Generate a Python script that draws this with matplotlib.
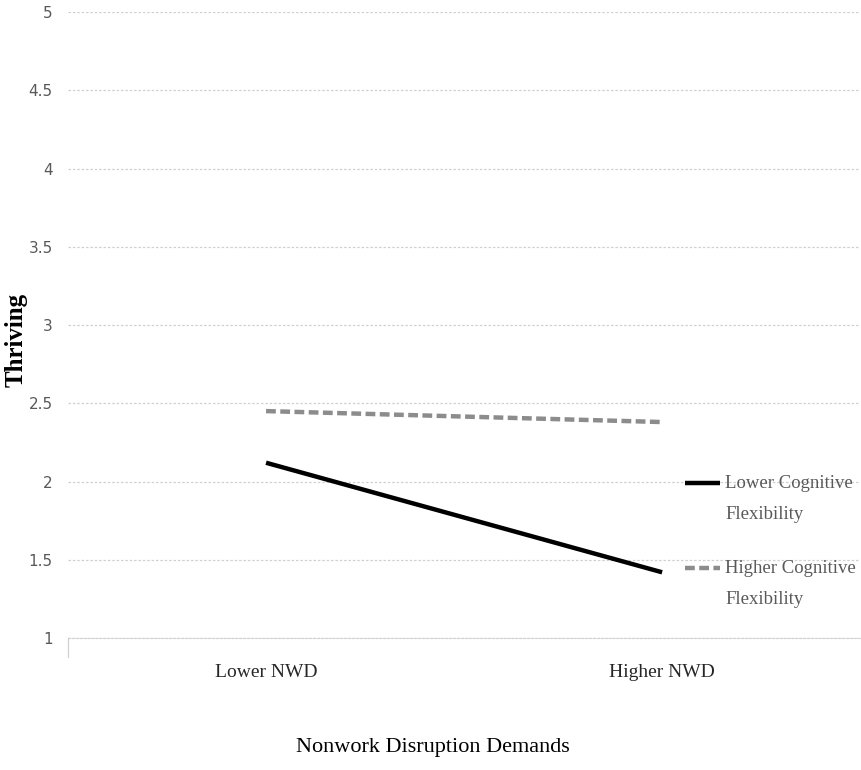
import matplotlib.pyplot as plt
from matplotlib.lines import Line2D
import numpy as np

categories = ["Lower NWD", "Higher NWD"]
lower_cf = [2.12, 1.42]
higher_cf = [2.45, 2.38]
yticks = [1, 1.5, 2, 2.5, 3, 3.5, 4, 4.5, 5]
ytick_labels = ["1", "1.5", "2", "2.5", "3", "3.5", "4", "4.5", "5"]
series_names = [["Lower Cognitive", "Flexibility"], ["Higher Cognitive", "Flexibility"]]

fig = plt.figure(figsize=(8.61, 7.70), dpi=100)
ax = fig.add_axes([0.079, 0.1714, 0.920, 0.8130])

x = np.arange(len(categories))
styles = [dict(color="black", lw=3.2, solid_capstyle="butt"),
          dict(color="#8c8c8c", lw=3.2, dashes=(2.2, 1.0))]
ax.plot(x, lower_cf, **styles[0])
ax.plot(x, higher_cf, **styles[1])

ax.set_xlim(-0.5, 1.5)
ax.set_ylim(1, 5)
ax.set_yticks(yticks)
ax.set_yticklabels(ytick_labels, family=["Liberation Sans Narrow", "DejaVu Sans"],
                   fontsize=11, color="#595959")
ax.set_xticks(x)
ax.set_xticklabels(categories, family="Liberation Serif", fontsize=14, color="#262626")
ax.tick_params(axis="y", length=0, pad=11)
ax.tick_params(axis="x", length=0, pad=19)

ax.grid(axis="y", color="#d0d0d0", lw=0.9, ls=(0, (2, 1.5)))
ax.set_axisbelow(True)
for s in ["top", "right", "left"]:
    ax.spines[s].set_visible(False)
ax.spines["bottom"].set_color("#d0d0d0")
ax.spines["bottom"].set_linestyle((0, (2, 1.5)))
ax.axvline(-0.5, ymin=-0.03, ymax=0, color="#d0d0d0", lw=0.9, clip_on=False)

ax.set_ylabel("Thriving", family="Liberation Serif", fontsize=18, fontweight="bold")
ax.yaxis.set_label_coords(-0.051, 0.476)
ax.set_xlabel("Nonwork Disruption Demands", family="Liberation Serif", fontsize=16)
ax.xaxis.set_label_coords(0.46, -0.16)

# legend drawn by hand so the key sits beside the first line of each label
leg_y = [0.2476, 0.1118]
line_gap = 0.051
for names, st, yy in zip(series_names, styles, leg_y):
    ax.add_line(Line2D([0.779, 0.823], [yy, yy], transform=ax.transAxes,
                       clip_on=False, **st))
    for j, t in enumerate(names):
        ax.text(0.8295, yy - j * line_gap, t, transform=ax.transAxes,
                family="Liberation Serif", fontsize=13.5, color="#595959",
                va="center", ha="left")

fig.savefig("out.png", dpi=100)
